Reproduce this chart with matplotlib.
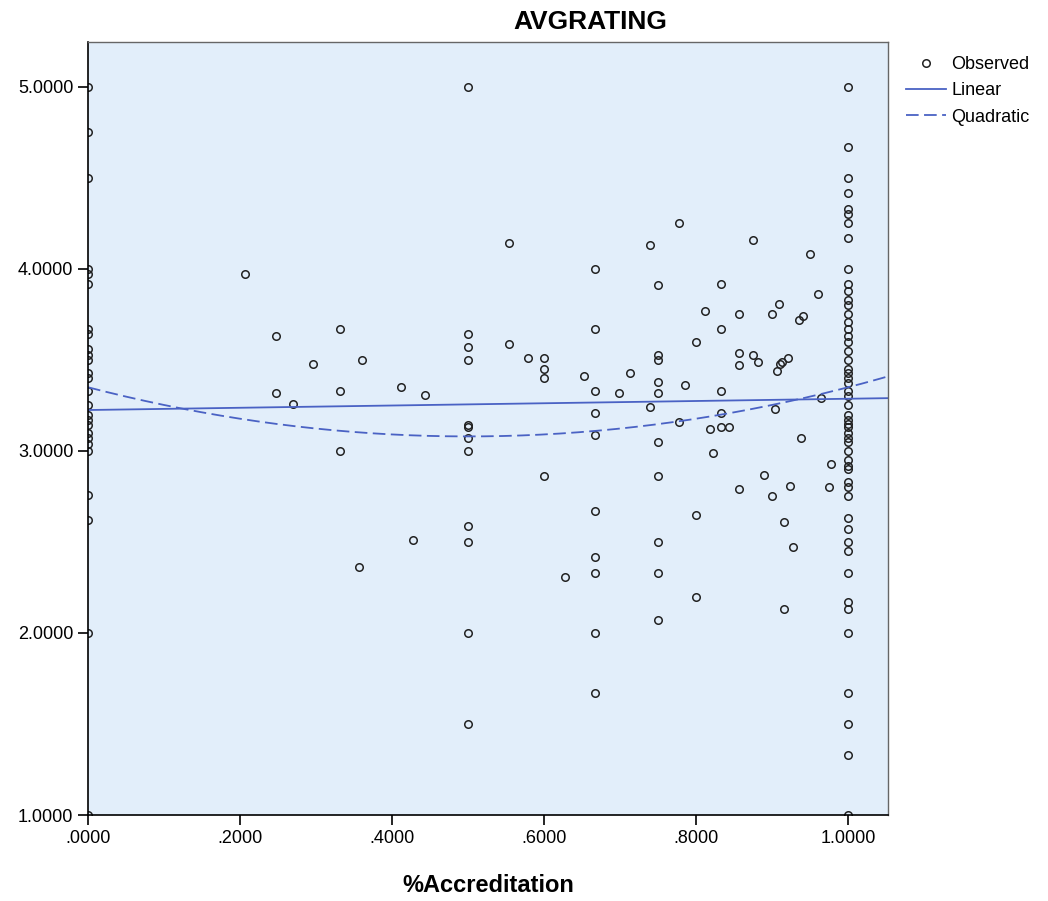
import matplotlib
matplotlib.use("Agg")
import numpy as np
import matplotlib.pyplot as plt
from matplotlib.ticker import FuncFormatter

plt.rcParams['font.family'] = ['Liberation Sans', 'DejaVu Sans']

# observed points, x = %Accreditation, y = AVGRATING
acc_0 = [0.0] * 26
rat_0 = [5.0, 4.75, 4.5, 4.0, 3.97, 3.92, 3.67, 3.64, 3.56, 3.53, 3.5, 3.43, 3.4,
         3.33, 3.25, 3.2, 3.17, 3.14, 3.1, 3.07, 3.04, 3.0, 2.76, 2.62, 2.0, 1.0]

acc_1 = [1.0] * 53
rat_1 = [5.0, 4.67, 4.5, 4.42, 4.33, 4.3, 4.25, 4.17, 4.0, 3.92, 3.88, 3.83, 3.8,
         3.75, 3.71, 3.67, 3.63, 3.6, 3.55, 3.5, 3.45, 3.43, 3.4, 3.375, 3.33, 3.3,
         3.25, 3.2, 3.17, 3.15, 3.13, 3.1, 3.07, 3.05, 3.0, 2.95, 2.92, 2.9, 2.83,
         2.8, 2.75, 2.63, 2.57, 2.5, 2.45, 2.33, 2.17, 2.13, 2.0, 1.67, 1.5, 1.33, 1.0]

acc_mid = [0.207, 0.248, 0.248, 0.270, 0.296, 0.332, 0.332, 0.332, 0.361, 0.356,
           0.412, 0.443, 0.427,
           0.5, 0.5, 0.5, 0.5, 0.5, 0.5, 0.5, 0.5, 0.5, 0.5, 0.5, 0.5,
           0.554, 0.554, 0.579, 0.6, 0.6, 0.6, 0.6, 0.628, 0.653,
           0.667, 0.667, 0.667, 0.667, 0.667, 0.667, 0.667, 0.667, 0.667, 0.667,
           0.699, 0.713, 0.739, 0.739,
           0.75, 0.75, 0.75, 0.75, 0.75, 0.75, 0.75, 0.75, 0.75, 0.75,
           0.777, 0.777, 0.785, 0.8, 0.8, 0.8, 0.812, 0.818, 0.823,
           0.833, 0.833, 0.833, 0.833, 0.833, 0.843,
           0.857, 0.857, 0.857, 0.857, 0.875, 0.875, 0.882, 0.889,
           0.9, 0.9, 0.904, 0.909, 0.906, 0.911, 0.913, 0.921, 0.916, 0.916,
           0.923, 0.928, 0.935, 0.941, 0.938, 0.95, 0.961, 0.965, 0.975, 0.978]
rat_mid = [3.97, 3.63, 3.32, 3.26, 3.48, 3.67, 3.33, 3.0, 3.5, 2.36,
           3.35, 3.31, 2.51,
           5.0, 3.64, 3.57, 3.5, 3.14, 3.13, 3.07, 3.0, 2.59, 2.5, 2.0, 1.5,
           4.14, 3.59, 3.51, 3.51, 3.45, 3.4, 2.86, 2.31, 3.41,
           4.0, 3.67, 3.33, 3.21, 3.09, 2.67, 2.42, 2.33, 2.0, 1.67,
           3.32, 3.43, 4.13, 3.24,
           3.91, 3.53, 3.5, 3.38, 3.32, 3.05, 2.86, 2.5, 2.33, 2.07,
           4.25, 3.16, 3.36, 3.6, 2.65, 2.2, 3.77, 3.12, 2.99,
           3.92, 3.67, 3.33, 3.21, 3.13, 3.13,
           3.75, 3.54, 3.47, 2.79, 4.16, 3.53, 3.49, 2.87,
           3.75, 2.75, 3.23, 3.81, 3.44, 3.48, 3.49, 3.51, 2.61, 2.13,
           2.81, 2.47, 3.72, 3.74, 3.07, 4.08, 3.86, 3.29, 2.8, 2.93]

# fitted curves (coefficients)
lin_coef = [3.225, 0.062]          # b0, b1
quad_coef = [3.35, -1.08, 1.08]    # b0, b1, b2

xticks = [0.0, 0.2, 0.4, 0.6, 0.8, 1.0]
yticks = [1.0, 2.0, 3.0, 4.0, 5.0]

x = np.array(acc_0 + acc_mid + acc_1)
y = np.array(rat_0 + rat_mid + rat_1)

fig = plt.figure(figsize=(10.48, 9.01), dpi=100)
ax = fig.add_axes([88 / 1048, 1 - 815 / 901, 800 / 1048, 773 / 901])
ax.set_facecolor('#E2EEFA')

ax.plot(x, y, 'o', markersize=5.4, markerfacecolor='none', markeredgecolor='#222222',
        markeredgewidth=1.1, linestyle='none', label='Observed')

xs = np.linspace(0, 1.06, 300)
ax.plot(xs, lin_coef[0] + lin_coef[1] * xs, color='#4A62C4', lw=1.3, label='Linear')
ax.plot(xs, quad_coef[0] + quad_coef[1] * xs + quad_coef[2] * xs ** 2, color='#4A62C4',
        lw=1.3, dashes=(7, 3), label='Quadratic')

ax.set_xlim(0, 1.0526)
ax.set_ylim(1.0, 5.247)
ax.set_xticks(xticks)
ax.set_yticks(yticks)

def fmt(v, pos):
    s = '%.4f' % v
    if s.startswith('0'):
        s = s[1:]
    return s

ax.xaxis.set_major_formatter(FuncFormatter(fmt))
ax.yaxis.set_major_formatter(FuncFormatter(fmt))
ax.tick_params(axis='both', direction='out', length=7, width=1.2, labelsize=13, color='black')

for s in ['left', 'bottom']:
    ax.spines[s].set_color('black')
    ax.spines[s].set_linewidth(1.2)
for s in ['top', 'right']:
    ax.spines[s].set_color('#666666')
    ax.spines[s].set_linewidth(1.0)

fig.text(590 / 1048, 1 - 22 / 901, 'AVGRATING', fontsize=19, fontweight='bold',
         ha='center', va='center')
ax.set_xlabel('%Accreditation', fontsize=17, fontweight='bold', labelpad=20)

ax.legend(loc='upper left', bbox_to_anchor=(1.005, 1.0), frameon=False, fontsize=13,
          handlelength=2.2, handletextpad=0.3, borderpad=0.3, labelspacing=0.5)

plt.savefig('out.png', dpi=100)
